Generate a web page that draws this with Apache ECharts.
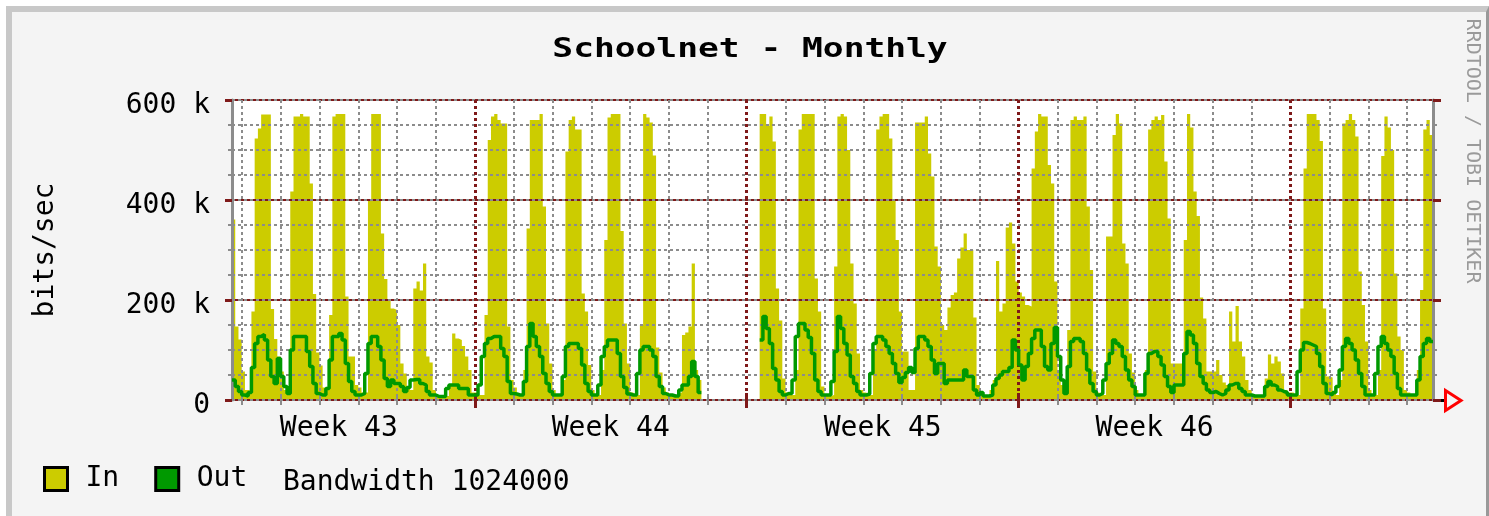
<!DOCTYPE html>
<html>
<head>
<meta charset="utf-8">
<script src="https://cdn.jsdelivr.net/npm/echarts@6/dist/echarts.min.js"></script>
<style>
html,body{margin:0;padding:0;background:#ffffff;}
#frame{position:absolute;left:6px;top:6px;width:1474px;height:504px;background:#f4f4f4;border-top:6px solid #c8c8c8;border-left:6px solid #c8c8c8;border-right:3px solid #999999;}
#chart{position:absolute;left:0;top:0;width:1489px;height:516px;}
</style>
</head>
<body>
<div id="frame"></div>
<div id="chart"></div>
<script>
// ---- time axis: hours since Monday 00:00 of week 43, data in 2-hour bins ----
const X_MIN = 18;
const X_MAX = 760;
const BIN_HOURS = 2;

const weekTicks = [168, 336, 504, 672];
const weekMids = [84, 252, 420, 588];
const weekLabels = ['Week 43', 'Week 44', 'Week 45', 'Week 46'];

const yTickValues = [0, 200, 400, 600];
const yTickLabels = ['0', '200 k', '400 k', '600 k'];

// ---- In (kbit/s), 2-hour averages; week 43 starts Monday 18:00 ----
const in43 = [
  361, 147, 121,
  57, 20, 18, 177, 523, 543, 571, 571, 571, 182, 122, 87,
  57, 20, 20, 417, 567, 567, 572, 567, 567, 433, 212, 95,
  69, 25, 20, 170, 567, 572, 572, 572, 207, 87, 87, 30,
  25, 15, 15, 400, 572, 572, 572, 333, 242, 200, 183, 180,
  150, 73, 53, 25, 20, 223, 237, 219, 273, 87, 75, 20,
  10, 8, 8, 8, 30, 133, 123, 120, 108, 87, 60, 15
];
const in44 = [
  15, 10, 10, 170, 520, 567, 572, 560, 553, 553, 147, 40,
  25, 12, 10, 60, 343, 560, 560, 560, 572, 387, 153, 73,
  20, 12, 10, 40, 497, 560, 567, 541, 541, 213, 177, 70,
  20, 10, 10, 60, 320, 565, 572, 572, 572, 338, 153, 73,
  15, 10, 10, 150, 572, 565, 555, 489, 105, 55, 25, 15,
  10, 8, 8, 15, 130, 135, 147, 273, 60, 40, null, null,
  null, null, null, null, null, null, null, null, null, null, null, null
];
const in45 = [
  null, null, null, null, 572, 572, 548, 567, 517, 223, 159, 43,
  15, 10, 10, 60, 541, 572, 572, 572, 572, 243, 177, 27,
  10, 8, 10, 267, 567, 572, 567, 500, 273, 193, 93, 20,
  15, 10, 10, 100, 541, 567, 572, 572, 523, 398, 320, 177,
  97, 97, 20, 20, 555, 555, 555, 567, 493, 447, 307, 267,
  150, 140, 185, 210, 215, 283, 305, 333, 300, 300, 165, 30,
  15, 10, 10, 20, 40, 278, 177, 193, 345, 355, 313, 237
];
const in46 = [
  215, 207, 190, 187, 463, 537, 572, 567, 567, 470, 433, 237,
  60, 30, 20, 140, 560, 567, 560, 560, 567, 387, 260, 57,
  15, 10, 10, 327, 327, 530, 572, 553, 313, 273, 93, 55,
  20, 10, 10, 60, 541, 560, 567, 560, 570, 477, 363, 73,
  73, 73, 73, 320, 572, 545, 417, 368, 205, 163, 57, 57,
  57, 80, 50, 35, 30, 177, 117, 188, 117, 87, 40, 20,
  10, 8, 8, 12, 43, 91, 73, 87, 77, 53, 20, 15
];
const in47 = [
  15, 10, 10, 183, 463, 572, 572, 572, 560, 518, 183, 47,
  45, 15, 10, 40, 553, 560, 572, 560, 527, 257, 190, 117,
  20, 10, 10, 60, 488, 567, 545, 500, 253, 127, 100, 20,
  15, 10, 10, 60, 220, 541, 560, 530
];

// ---- Out (kbit/s) ----
const out43 = [
  40, 27, 17,
  10, 8, 15, 65, 113, 127, 131, 120, 80, 47, 33, 83,
  47, 27, 13, 100, 127, 127, 127, 127, 97, 67, 33, 13,
  10, 10, 23, 80, 127, 127, 133, 120, 73, 37, 17, 10,
  10, 13, 53, 113, 127, 127, 107, 80, 43, 27, 40, 33,
  33, 27, 17, 25, 40, 41, 41, 33, 30, 17, 10, 10,
  7, 7, 7, 23, 30, 30, 30, 23, 23, 23, 10, 10
];
const out44 = [
  10, 30, 87, 113, 123, 127, 127, 127, 103, 87, 37, 13,
  12, 10, 10, 37, 107, 153, 127, 107, 87, 53, 33, 17,
  10, 10, 10, 47, 107, 113, 113, 113, 103, 70, 33, 17,
  10, 10, 30, 87, 107, 120, 120, 120, 93, 47, 25, 12,
  10, 10, 53, 100, 107, 107, 100, 87, 47, 27, 13, 10,
  10, 8, 8, 20, 30, 30, 47, 77, 47, 15, null, null,
  null, null, null, null, null, null, null, null, null, null, null, null
];
const out45 = [
  null, null, null, null, 120, 167, 143, 113, 63, 40, 17, 10,
  13, 13, 40, 127, 153, 153, 140, 125, 93, 40, 17, 10,
  10, 10, 37, 97, 167, 143, 113, 90, 47, 33, 17, 10,
  10, 12, 53, 113, 127, 127, 120, 107, 93, 73, 53, 35,
  45, 55, 65, 55, 103, 127, 127, 120, 107, 80, 53, 73,
  73, 33, 40, 40, 40, 40, 40, 60, 47, 47, 20, 10,
  15, 8, 8, 10, 30, 43, 50, 57, 57, 65, 120, 100
];
const out46 = [
  70, 40, 67, 93, 123, 140, 140, 107, 67, 60, 113, 145,
  87, 40, 13, 67, 117, 123, 123, 117, 93, 60, 33, 17,
  10, 13, 40, 73, 93, 120, 113, 107, 87, 60, 40, 27,
  10, 10, 10, 53, 93, 97, 97, 87, 70, 47, 27, 15,
  30, 30, 30, 93, 137, 130, 113, 73, 47, 33, 20, 15,
  17, 13, 10, 13, 20, 30, 33, 33, 23, 17, 10, 10,
  8, 8, 8, 8, 27, 37, 30, 27, 20, 17, 15, 10
];
const out47 = [
  10, 10, 57, 100, 115, 113, 110, 107, 93, 67, 33, 13,
  10, 15, 27, 60, 107, 123, 113, 100, 80, 53, 27, 10,
  10, 10, 53, 107, 127, 113, 100, 87, 53, 23, 10, 10,
  10, 10, 10, 40, 87, 113, 123, 117
];

const FONT = '"DejaVu Sans Mono", "Liberation Mono", monospace';
const GRAY = '#8c8c8c';
const DARKRED = '#7f1919';

const inValues = [].concat(in43, in44, in45, in46, in47);
const outValues = [].concat(out43, out44, out45, out46, out47);

// each 2-hour bin becomes a flat step: [start, v], [end, v]
function stepPoints(vals) {
  const pts = [];
  vals.forEach(function (v, i) {
    const x0 = X_MIN + i * BIN_HOURS;
    const x1 = Math.min(x0 + BIN_HOURS, X_MAX);
    if (v === null) {
      pts.push([x0, null]);
    } else {
      pts.push([x0, v]);
      pts.push([x1, v]);
    }
  });
  return pts;
}

const dayTicks = [];
for (let t = 24; t < X_MAX; t += 24) {
  if (weekTicks.indexOf(t) < 0) dayTicks.push(t);
}

const chart = echarts.init(document.getElementById('chart'), null, { renderer: 'canvas' });

const baseX = { type: 'value', min: X_MIN, max: X_MAX, z: 2, axisLine: { show: false } };
const baseY = { type: 'value', min: 0, max: 600, z: 2 };

const option = {
  animation: false,
  backgroundColor: 'transparent',
  grid: { left: 232, top: 100, width: 1201, height: 300, show: true, backgroundColor: '#ffffff', borderWidth: 0 },
  legend: {
    left: 43, top: 465, padding: 0,
    icon: 'rect', itemWidth: 23, itemHeight: 23, itemGap: 35,
    selectedMode: false,
    itemStyle: { borderColor: '#000000', borderWidth: 3 },
    textStyle: { fontFamily: FONT, fontSize: 28, color: '#000000', padding: [6, 0, 0, 13] },
    data: ['In', 'Out']
  },
  xAxis: [
    Object.assign({}, baseX, {
      position: 'bottom',
      axisTick: { show: true, customValues: dayTicks, length: 5, lineStyle: { color: GRAY, width: 2 } },
      axisLabel: {
        customValues: weekMids, margin: 15,
        fontFamily: FONT, fontSize: 28, color: '#000000',
        formatter: function (v) { const k = weekMids.indexOf(v); return k >= 0 ? weekLabels[k] : ''; }
      },
      splitLine: { show: true, lineStyle: { color: GRAY, width: 2, type: [3, 3] } }
    }),
    Object.assign({}, baseX, {
      position: 'bottom',
      axisTick: { show: true, customValues: weekTicks, length: 8, lineStyle: { color: DARKRED, width: 3 } },
      axisLabel: { show: false },
      splitLine: { show: true, lineStyle: { color: DARKRED, width: 3, type: [3, 3] } }
    }),
    Object.assign({}, baseX, {
      position: 'top',
      axisTick: { show: true, customValues: dayTicks, length: 4, lineStyle: { color: GRAY, width: 2 } },
      axisLabel: { show: false }, splitLine: { show: false }
    }),
    Object.assign({}, baseX, {
      position: 'top',
      axisTick: { show: true, customValues: weekTicks, length: 7, lineStyle: { color: DARKRED, width: 3 } },
      axisLabel: { show: false }, splitLine: { show: false }
    })
  ],
  yAxis: [
    Object.assign({}, baseY, {
      position: 'left', interval: 50,
      axisLine: { show: true, lineStyle: { color: GRAY, width: 3 } },
      axisTick: { show: true, length: 4, lineStyle: { color: GRAY, width: 2 } },
      axisLabel: { show: false },
      splitLine: { show: true, lineStyle: { color: GRAY, width: 2, type: [3, 3] } }
    }),
    Object.assign({}, baseY, {
      position: 'left', interval: 200,
      axisLine: { show: false },
      axisTick: { show: true, length: 7, lineStyle: { color: DARKRED, width: 3 } },
      axisLabel: {
        margin: 22, fontFamily: FONT, fontSize: 28, color: '#000000',
        verticalAlign: 'top', lineHeight: 11,
        formatter: function (v) { const k = yTickValues.indexOf(v); return k >= 0 ? yTickLabels[k] : ''; }
      },
      splitLine: { show: true, lineStyle: { color: DARKRED, width: 2, type: [3, 3], dashOffset: 3 } },
      name: 'bits/sec', nameLocation: 'middle', nameGap: 172, nameRotate: 90,
      nameTextStyle: { fontFamily: FONT, fontSize: 28, color: '#000000' }
    }),
    Object.assign({}, baseY, {
      position: 'right', interval: 50,
      axisLine: { show: true, lineStyle: { color: GRAY, width: 3 } },
      axisTick: { show: true, length: 4, lineStyle: { color: GRAY, width: 2 } },
      axisLabel: { show: false }, splitLine: { show: false }
    }),
    Object.assign({}, baseY, {
      position: 'right', interval: 200,
      axisLine: { show: false },
      axisTick: { show: true, length: 8, lineStyle: { color: DARKRED, width: 3 } },
      axisLabel: { show: false }, splitLine: { show: false }
    })
  ],
  series: [
    {
      name: 'In', type: 'line', xAxisIndex: 0, yAxisIndex: 0,
      data: stepPoints(inValues),
      symbol: 'none', showSymbol: false, connectNulls: false,
      lineStyle: { width: 0, color: '#cccc00' },
      itemStyle: { color: '#cccc00' },
      areaStyle: { color: '#cccc00', opacity: 1 },
      z: 1, silent: true
    },
    {
      name: 'Out', type: 'line', xAxisIndex: 0, yAxisIndex: 0,
      data: stepPoints(outValues),
      symbol: 'none', showSymbol: false, connectNulls: false,
      lineStyle: { width: 3.5, color: '#009900' },
      itemStyle: { color: '#009900' },
      z: 3, silent: true
    }
  ],
  graphic: [
    {
      id: 'title', type: 'text', x: 750, y: 50, scaleX: 1.28,
      style: { text: 'Schoolnet - Monthly', font: 'bold 27px ' + FONT, fill: '#000000', align: 'center', verticalAlign: 'middle' }
    },
    {
      id: 'bandwidth', type: 'text', x: 283, y: 483,
      style: { text: 'Bandwidth 1024000', font: '28px ' + FONT, fill: '#000000', align: 'left', verticalAlign: 'middle' }
    },
    {
      id: 'rrd', type: 'text', x: 1472, y: 151, rotation: -Math.PI / 2,
      style: { text: 'RRDTOOL / TOBI OETIKER', font: '20px ' + FONT, fill: '#9a9a9a', align: 'center', verticalAlign: 'middle' }
    }
  ]
};

chart.setOption(option);

// axis-end arrow, placed from the axis scale
const endPt = chart.convertToPixel({ xAxisIndex: 0, yAxisIndex: 0 }, [X_MAX, 0]);
chart.setOption({
  graphic: [
    { id: 'stub', type: 'line', shape: { x1: endPt[0] + 2, y1: endPt[1] + 0.5, x2: endPt[0] + 11, y2: endPt[1] + 0.5 }, style: { stroke: '#000000', lineWidth: 3 } },
    { id: 'arrow', type: 'polygon', shape: { points: [[endPt[0] + 12.5, endPt[1] - 9.5], [endPt[0] + 12.5, endPt[1] + 10.5], [endPt[0] + 28, endPt[1] + 0.5]] }, style: { stroke: '#ff0000', lineWidth: 3, fill: '#f4f4f4' } }
  ]
});
</script>
</body>
</html>
